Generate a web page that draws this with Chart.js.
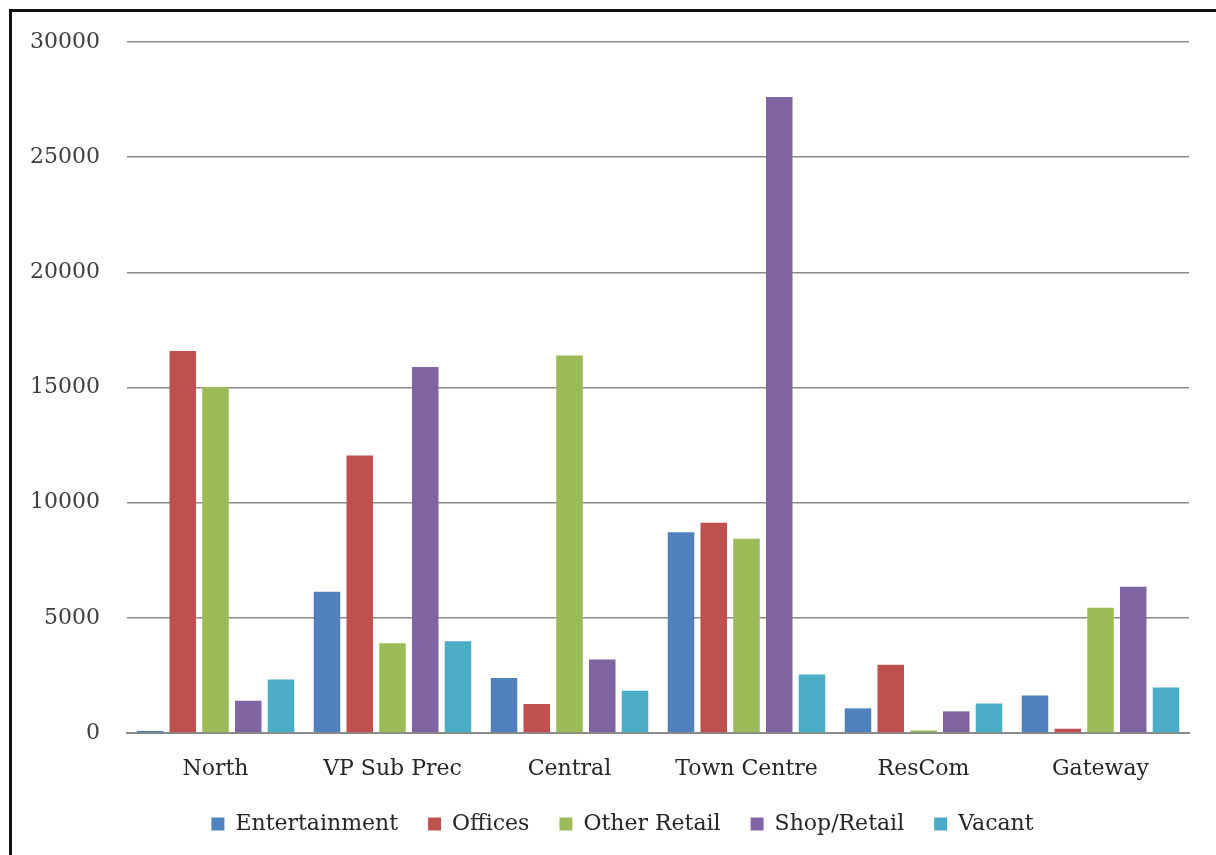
<!DOCTYPE html>
<html>
<head>
<meta charset="utf-8">
<script src="https://cdn.jsdelivr.net/npm/chart.js@4"></script>
<style>
	html, body { margin: 0; padding: 0; background: #fff; overflow: hidden; }
	#frame {
		position: absolute; left: 9px; top: 9px;
		width: 1300px; height: 1000px;
		border-top: 3px solid #111; border-left: 3px solid #111;
	}
	#wrap { position: absolute; left: 0; top: 0; width: 1216px; height: 855px; }
</style>
</head>
<body>
<div id="frame"></div>
<div id="wrap"><canvas id="chart"></canvas></div>
<script>
// Categories and series values
const categories    = ['North', 'VP Sub Prec', 'Central', 'Town Centre', 'ResCom', 'Gateway']
const entertainment = [90, 6130, 2390, 8720, 1070, 1630]
const offices       = [16590, 12050, 1260, 9130, 2960, 185]
const otherRetail   = [15020, 3900, 16390, 8430, 110, 5440]
const shopRetail    = [1400, 15890, 3190, 27610, 940, 6350]
const vacant        = [2320, 3980, 1830, 2540, 1280, 1980]
const yTicks        = [0, 5000, 10000, 15000, 20000, 25000, 30000]

const font = 'DejaVu Serif'

const series = [
	{ label: 'Entertainment', data: entertainment, color: '#4f81bd' },
	{ label: 'Offices',       data: offices,       color: '#c0504d' },
	{ label: 'Other Retail',  data: otherRetail,   color: '#9bbb59' },
	{ label: 'Shop/Retail',   data: shopRetail,    color: '#8064a2' },
	{ label: 'Vacant',        data: vacant,        color: '#4bacc6' }
]

// nudge the legend a bit right, the original sits off centre
const legendShift = {
	id: 'legendShift',
	afterLayout(chart) {
		chart.legend.left += 28
		chart.legend.right += 28
	}
}

new Chart(document.getElementById('chart'), {
	type: 'bar',
	data: {
		labels: categories,
		datasets: series.map(s => ({
			label: s.label,
			data: s.data,
			backgroundColor: s.color,
			borderWidth: 0,
			categoryPercentage: 0.925,
			barPercentage: 0.81
		}))
	},
	plugins: [legendShift],
	options: {
		responsive: true,
		maintainAspectRatio: false,
		animation: false,
		layout: { padding: { top: 42, right: 27, bottom: 10, left: 0 } },
		plugins: {
			tooltip: { enabled: false },
			legend: {
				position: 'bottom',
				labels: {
					font: { family: font, size: 22 },
					color: '#262626',
					boxWidth: 13,
					boxHeight: 13,
					padding: 30
				}
			}
		},
		scales: {
			x: {
				grid: { display: false },
				border: { display: true, color: '#8a8a8a', width: 2 },
				ticks: { font: { family: font, size: 22 }, color: '#262626', padding: 15 },
				afterFit: (scale) => { scale.height = 50 }
			},
			y: {
				min: 0,
				max: 30000,
				afterBuildTicks: (scale) => { scale.ticks = yTicks.map(v => ({ value: v })) },
				grid: { color: '#8a8a8a', lineWidth: 1.5, drawTicks: false },
				border: { display: false },
				ticks: {
					font: { family: font, size: 22 },
					color: '#404040',
					padding: 27,
					callback: (v) => String(v)
				},
				afterFit: (scale) => { scale.width = 127 }
			}
		}
	}
})
</script>
</body>
</html>
